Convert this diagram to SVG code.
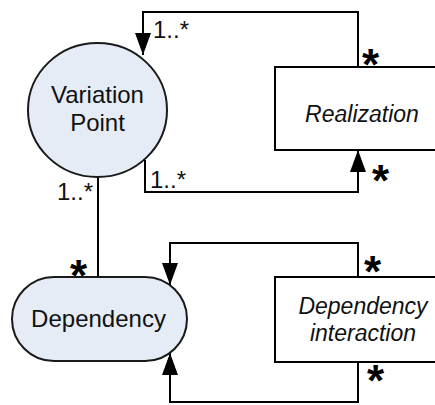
<svg xmlns="http://www.w3.org/2000/svg" width="435" height="405" viewBox="0 0 435 405">
  <style>
    .bg { fill: #ffffff; }
    .node { fill: #E6ECF6; stroke: #1a1a1a; stroke-width: 2; }
    .box { fill: #ffffff; stroke: #000000; stroke-width: 2; }
    .edge { fill: none; stroke: #000000; stroke-width: 2; }
    .label { font-family: "Liberation Sans", Arial, sans-serif; font-size: 24px; fill: #111111; }
    .ital { font-family: "Liberation Sans", Arial, sans-serif; font-size: 23px; font-style: italic; fill: #111111; text-anchor: middle; }
    .mult { font-family: "Liberation Sans", Arial, sans-serif; font-size: 24px; fill: #111111; }
    .star { font-family: "Liberation Sans", Arial, sans-serif; font-size: 44px; font-weight: bold; fill: #000000; }
  </style>
  <defs>
    <marker id="arrow" viewBox="0 0 22 16" refX="22" refY="8" markerWidth="22" markerHeight="16" markerUnits="userSpaceOnUse" orient="auto">
      <path d="M0,0 L22,8 L0,16 z" fill="#000000"/>
    </marker>
  </defs>
  <rect class="bg" x="0" y="0" width="435" height="405"/>

  <g id="connectors">
    <path class="edge" d="M358,67 V12 H143 V55" marker-end="url(#arrow)"/>
    <path class="edge" d="M145,160 V192 H358 V150" marker-end="url(#arrow)"/>
    <path class="edge" d="M98,177 V277"/>
    <path class="edge" d="M358,277 V243 H170 V285" marker-end="url(#arrow)"/>
    <path class="edge" d="M358,362 V402 H170 V353" marker-end="url(#arrow)"/>
  </g>

  <g id="variation-point">
    <ellipse class="node" cx="97.5" cy="110" rx="69.5" ry="67"/>
    <text class="label" x="97.5" y="103" text-anchor="middle">Variation</text>
    <text class="label" x="97.5" y="131" text-anchor="middle">Point</text>
  </g>

  <g id="realization">
    <rect class="box" x="275" y="67" width="170" height="83"/>
    <text class="ital" x="362" y="122">Realization</text>
  </g>

  <g id="dependency">
    <rect class="node" x="12" y="277" width="175" height="84" rx="42" ry="42"/>
    <text class="label" x="98.5" y="327" text-anchor="middle">Dependency</text>
  </g>

  <g id="dependency-interaction">
    <rect class="box" x="275" y="277" width="170" height="85"/>
    <text class="ital" x="363" y="314">Dependency</text>
    <text class="ital" x="363" y="341">interaction</text>
  </g>

  <g id="multiplicities">
    <text class="mult" x="153" y="38">1..*</text>
    <text class="mult" x="150" y="188">1..*</text>
    <text class="mult" x="93" y="200" text-anchor="end">1..*</text>
    <text class="star" x="362" y="80">*</text>
    <text class="star" x="372" y="196">*</text>
    <text class="star" x="364" y="287">*</text>
    <text class="star" x="367" y="396">*</text>
    <text class="star" x="70" y="291">*</text>
  </g>
</svg>
